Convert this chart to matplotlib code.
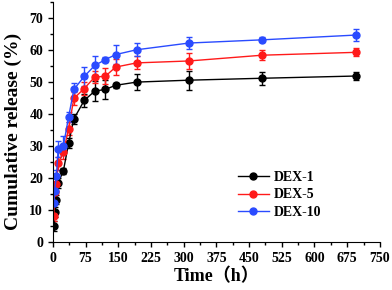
import matplotlib
matplotlib.use('Agg')
import matplotlib.pyplot as plt
from matplotlib.ticker import MultipleLocator
from matplotlib.lines import Line2D

# release data
time_h = [2, 4, 8, 12, 24, 36, 48, 72, 96, 120, 144, 192, 312, 480, 696]

dex1 = [4.9, 9.4, 13.2, 18.4, 22.2, 30.8, 38.4, 44.2, 47.1, 47.6, 48.9, 49.9, 50.5, 51.1, 51.8]
dex1_err = [1.5, 1.5, 1.5, 1.5, 1.0, 1.5, 1.5, 2.0, 3.0, 3.0, 0.8, 2.5, 3.0, 2.0, 1.2]

dex5 = [8.0, 15.5, 18.0, 24.5, 28.0, 35.4, 44.8, 47.9, 51.5, 51.7, 54.6, 55.9, 56.5, 58.3, 59.2]
dex5_err = [1.5, 2.0, 2.0, 2.0, 2.0, 2.0, 2.0, 2.0, 2.0, 2.5, 2.5, 2.0, 2.5, 1.5, 1.3]

dex10 = [12.0, 16.0, 20.5, 29.0, 30.0, 39.0, 47.6, 51.7, 55.1, 56.9, 58.5, 60.0, 62.1, 63.1, 64.6]
dex10_err = [2.0, 2.0, 2.0, 2.5, 3.0, 1.5, 2.0, 3.0, 3.0, 0.8, 3.0, 2.0, 2.0, 0.8, 1.8]

labels = ['DEX-1', 'DEX-5', 'DEX-10']
colors = ['black', '#ff1a1a', '#2a4bff']

plt.rcParams['font.family'] = ['Liberation Serif', 'Noto Sans CJK SC']
plt.rcParams['font.weight'] = 'bold'

fig = plt.figure(figsize=(3.92, 2.9), dpi=100)
ax = fig.add_axes([0.135, 0.166, 0.834, 0.828])

handles = []
for y, e, lab, c in zip([dex1, dex5, dex10], [dex1_err, dex5_err, dex10_err], labels, colors):
    ax.errorbar(time_h, y, yerr=e, color=c, marker='o', markersize=5, linewidth=1,
                elinewidth=1, capsize=2.5, capthick=1)
    handles.append(Line2D([], [], color=c, marker='o', markersize=5, linewidth=1, label=lab))

ax.set_xlim(0, 750)
ax.set_ylim(0, 75)
ax.xaxis.set_major_locator(MultipleLocator(75))
ax.xaxis.set_minor_locator(MultipleLocator(37.5))
ax.yaxis.set_major_locator(MultipleLocator(10))
ax.yaxis.set_minor_locator(MultipleLocator(5))
ax.spines['top'].set_visible(False)
ax.spines['right'].set_visible(False)
ax.tick_params(which='both', direction='out', labelsize=10, width=1)
ax.tick_params(which='major', length=3.5)
ax.tick_params(which='minor', length=2)
for t in ax.get_xticklabels() + ax.get_yticklabels():
    t.set_fontweight('bold')

ax.set_xlabel('Time（h）', fontsize=13, fontweight='bold', labelpad=2)
ax.set_ylabel('Cumulative release (%)', fontsize=14, fontweight='bold')
ax.yaxis.set_label_coords(-0.095, 0.46)

ax.legend(handles=handles, loc='lower right', bbox_to_anchor=(0.86, 0.045), frameon=False,
          prop={'weight': 'bold', 'size': 10, 'family': 'Liberation Serif'},
          handlelength=2.2, labelspacing=0.3, handletextpad=0.4)

fig.savefig('out.png', dpi=100)
